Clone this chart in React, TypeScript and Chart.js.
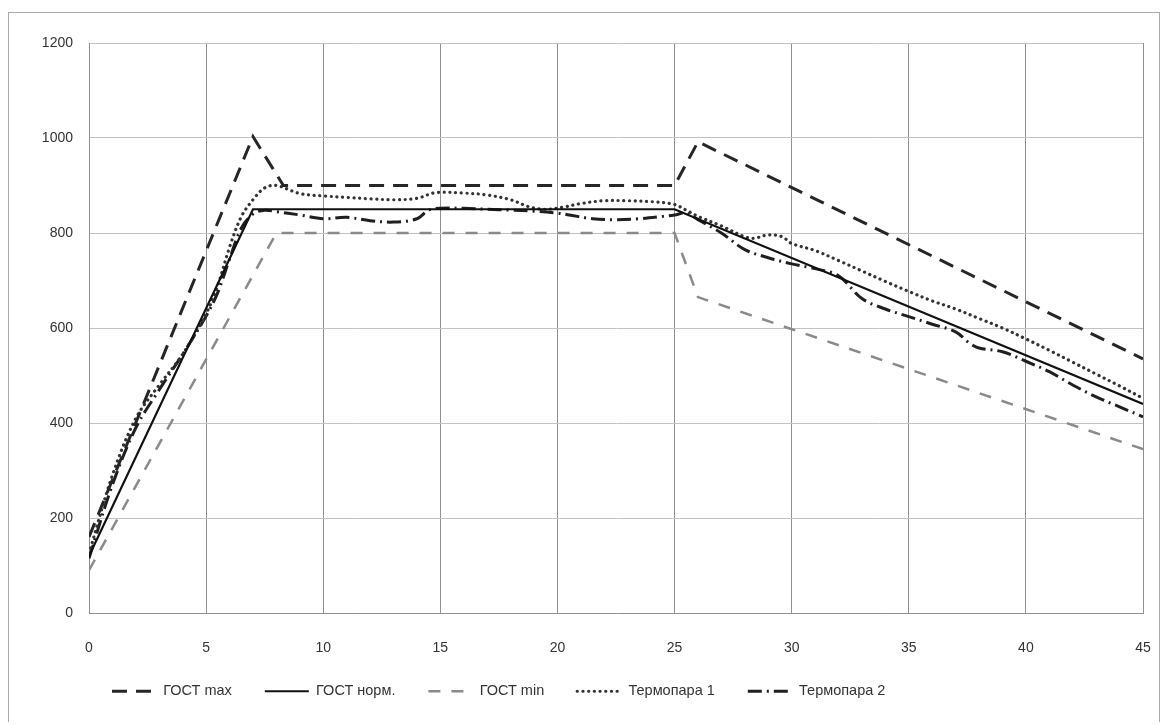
import React, { useEffect, useRef } from "react";
import { Chart, registerables } from "chart.js";

Chart.register(...registerables);

// ---- data ----
const seriesNames = ["ГОСТ max", "ГОСТ норм.", "ГОСТ min", "Термопара 1", "Термопара 2"];

const gostMaxT = [0, 7, 8.3, 25, 26, 45];
const gostMaxV = [160, 1003, 900, 900, 992, 535];

const gostNormT = [0, 7, 25, 45];
const gostNormV = [120, 850, 850, 440];

const gostMinT = [0, 8, 25, 26, 45];
const gostMinV = [90, 800, 800, 665, 345];

const tc1T = [0, 1, 2, 3, 4, 5, 5.5, 6, 6.5, 7, 7.5, 8, 9, 10, 11, 12, 13, 14, 14.8, 16, 17, 18, 18.8, 19.5, 20.3, 21, 22, 23, 24, 25, 25.5, 26, 27, 28, 28.4, 29, 29.6, 30, 31, 32, 33, 34, 35, 36, 37, 38, 39, 40, 41, 42, 43, 44, 45];
const tc1V = [125, 290, 410, 480, 545, 630, 690, 770, 834, 870, 895, 900, 883, 878, 875, 872, 870, 873, 885, 884, 880, 870, 855, 850, 855, 862, 868, 868, 866, 860, 848, 835, 815, 792, 789, 796, 792, 778, 763, 742, 720, 698, 677, 657, 640, 620, 600, 577, 553, 528, 503, 478, 452];

const tc2T = [0, 1, 2, 3, 4, 5, 5.5, 6, 6.5, 7, 7.5, 8, 9, 10, 11, 12, 13, 14, 14.5, 15, 16, 17, 18, 19, 20, 20.5, 21.5, 22.5, 23.5, 24.5, 25, 25.5, 26, 27, 28, 29, 30, 30.7, 31, 32, 33, 34, 35, 36, 37, 37.6, 38, 39, 40, 41, 42, 43, 44, 45];
const tc2V = [115, 270, 390, 470, 545, 625, 675, 745, 810, 840, 848, 845, 838, 830, 833, 826, 823, 830, 848, 852, 852, 850, 848, 846, 842, 838, 830, 828, 830, 835, 838, 842, 828, 800, 765, 748, 735, 728, 725, 710, 662, 640, 624, 608, 592, 568, 558, 550, 530, 508, 480, 455, 434, 413];

const xMin = 0, xMax = 45, xStep = 5;
const yMin = 0, yMax = 1200, yStep = 200;

const pts = (t: number[], v: number[]) => t.map((x, i) => ({ x, y: v[i] }));

const FONT = "'Liberation Sans', Arial, sans-serif";

const legendShift = {
  id: "legendShift",
  beforeDraw(chart: any) {
    const lg = chart.legend;
    if (lg) {
      lg.left = 70;
      lg.top = 638;
    }
  },
};

export default function App() {
  const ref = useRef<HTMLCanvasElement | null>(null);

  useEffect(() => {
    if (!ref.current) return;
    const chart = new Chart(ref.current, {
      type: "line",
      data: {
        datasets: [
          {
            label: seriesNames[0],
            data: pts(gostMaxT, gostMaxV),
            borderColor: "#262626",
            borderWidth: 3,
            borderDash: [15, 9],
            tension: 0,
            pointRadius: 0,
          },
          {
            label: seriesNames[1],
            data: pts(gostNormT, gostNormV),
            borderColor: "#111111",
            borderWidth: 2.2,
            tension: 0,
            pointRadius: 0,
          },
          {
            label: seriesNames[2],
            data: pts(gostMinT, gostMinV),
            borderColor: "#8a8a8a",
            borderWidth: 2.5,
            borderDash: [12, 11],
            tension: 0,
            pointRadius: 0,
          },
          {
            label: seriesNames[3],
            data: pts(tc1T, tc1V),
            borderColor: "#333333",
            borderWidth: 3.2,
            borderDash: [0.1, 5.6],
            borderCapStyle: "round",
            tension: 0.35,
            pointRadius: 0,
          },
          {
            label: seriesNames[4],
            data: pts(tc2T, tc2V),
            borderColor: "#1f1f1f",
            borderWidth: 3,
            borderDash: [14, 5, 2, 5],
            tension: 0.35,
            pointRadius: 0,
          },
        ],
      },
      options: {
        animation: false,
        responsive: true,
        maintainAspectRatio: false,
        layout: { padding: { left: 33, right: 16, top: 30, bottom: 14 } },
        scales: {
          x: {
            type: "linear",
            min: xMin,
            max: xMax,
            afterFit: (s: any) => {
              s.height = 42;
              s.paddingLeft = 0;
              s.paddingRight = 0;
            },
            ticks: {
              stepSize: xStep,
              padding: 27,
              color: "#333",
              font: { family: FONT, size: 14 },
            },
            grid: { color: "#909090", drawTicks: false, lineWidth: 1 },
            border: { color: "#909090" },
          },
          y: {
            min: yMin,
            max: yMax,
            afterFit: (s: any) => {
              s.width = 47;
            },
            ticks: {
              stepSize: yStep,
              padding: 16,
              color: "#333",
              font: { family: FONT, size: 14 },
              callback: (v: any) => String(v),
            },
            grid: { color: "#c2c2c2", drawTicks: false, lineWidth: 1 },
            border: { color: "#909090" },
          },
        },
        plugins: {
          legend: {
            position: "bottom",
            align: "start",
            maxHeight: 56,
            labels: {
              usePointStyle: true,
              pointStyle: "line",
              pointStyleWidth: 44,
              padding: 33,
              color: "#333",
              font: { family: FONT, size: 14.5 },
              generateLabels: (c: any) => {
                const items = (Chart as any).defaults.plugins.legend.labels.generateLabels(c);
                items.forEach((it: any) => {
                  const ds = c.data.datasets[it.datasetIndex];
                  it.lineDash = ds.borderDash || [];
                  it.lineWidth = ds.borderWidth;
                  it.strokeStyle = ds.borderColor;
                  it.fillStyle = ds.borderColor;
                  it.lineCap = ds.borderCapStyle || "butt";
                  it.pointStyle = "line";
                });
                return items;
              },
            },
          },
          tooltip: { enabled: false },
        },
      },
      plugins: [legendShift],
    } as any);
    return () => chart.destroy();
  }, []);

  return (
    <div
      style={{
        position: "relative",
        top: 4,
        width: 1150,
        height: 712,
        border: "1px solid #aaa",
        background: "#fff",
      }}
    >
      <canvas ref={ref} />
    </div>
  );
}
